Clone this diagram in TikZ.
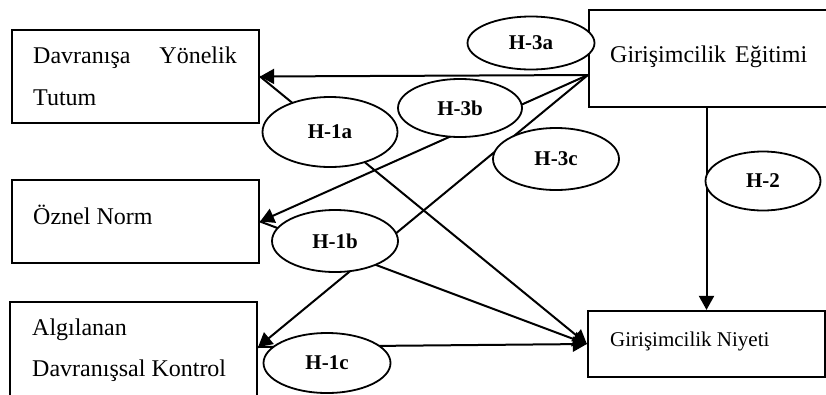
\documentclass[tikz,border=0pt]{standalone}
\usepackage{fontspec}
\setmainfont{Liberation Serif}
\usetikzlibrary{arrows.meta,shapes.geometric}
\begin{document}
\begin{tikzpicture}[x=1pt,y=-1pt,
  box/.style={draw, line width=2.2pt, rectangle, inner sep=0pt},
  hyp/.style={draw, line width=1.8pt, ellipse, fill=white, inner sep=0pt,
              font=\fontsize{21}{24}\selectfont\bfseries},
  lbl/.style={inner sep=0pt, font=\fontsize{24}{28}\selectfont, anchor=base west},
  link/.style={line width=2pt, -{Triangle[length=14pt,width=15pt]}}]
\useasboundingbox (0,0) rectangle (826,394);
\clip (0,0) rectangle (826,394);
% boxes
\node[box, minimum width=247pt, minimum height=93pt] (b1) at (135.5,76.5) {};
\node[box, minimum width=247pt, minimum height=83pt] (b2) at (135.5,221.5) {};
\node[box, minimum width=247pt, minimum height=98pt] (b3) at (133.5,351) {};
\node[box, minimum width=243pt, minimum height=97pt] (b4) at (710.5,58.5) {};
\node[box, minimum width=237pt, minimum height=66pt] (b5) at (706.5,344) {};
% box texts
\node[lbl] (t1a) at (33,63) {Davranışa};
\node[lbl, anchor=base east] (t1b) at (237,63) {Yönelik};
\node[lbl] (t1c) at (33,105) {Tutum};
\node[lbl] (t2) at (33,224) {Öznel Norm};
\node[lbl] (t3a) at (32,335) {Algılanan};
\node[lbl] (t3b) at (32,376) {Davranışsal Kontrol};
\node[lbl] (t4) at (610,62) {Girişimcilik\hspace{9pt}Eğitimi};
\node[lbl, font=\fontsize{21}{24}\selectfont] (t5) at (610,346) {Girişimcilik Niyeti};
% connection points
\coordinate (o4) at (b4.west |- 0,75);
\coordinate (i3) at (b3.east |- 0,347);
% connectors
\draw[link] (o4) -- (b1.east);
\draw[link] (o4) -- (b2.east);
\draw[link] (o4) -- (i3);
\draw[link] (b1.east) -- (b5.west);
\draw[link] (b2.east) -- (b5.west);
\draw[link] (i3) -- (b5.west);
\draw[link] (b5.north |- b4.south) -- (b5.north);
% hypothesis ellipses
\node[hyp, minimum width=127pt, minimum height=53pt] (h3a) at (531,43) {H-3a};
\node[hyp, minimum width=124pt, minimum height=58pt] (h3b) at (460,108) {H-3b};
\node[hyp, minimum width=126pt, minimum height=62pt] (h3c) at (556,159) {H-3c};
\node[hyp, minimum width=115pt, minimum height=59pt] (h2) at (763,181) {H-2};
\node[hyp, minimum width=135pt, minimum height=70pt] (h1a) at (330,132) {H-1a};
\node[hyp, minimum width=126pt, minimum height=62pt] (h1b) at (335,241) {H-1b};
\node[hyp, minimum width=127pt, minimum height=60pt] (h1c) at (327,363) {H-1c};
\end{tikzpicture}
\end{document}
